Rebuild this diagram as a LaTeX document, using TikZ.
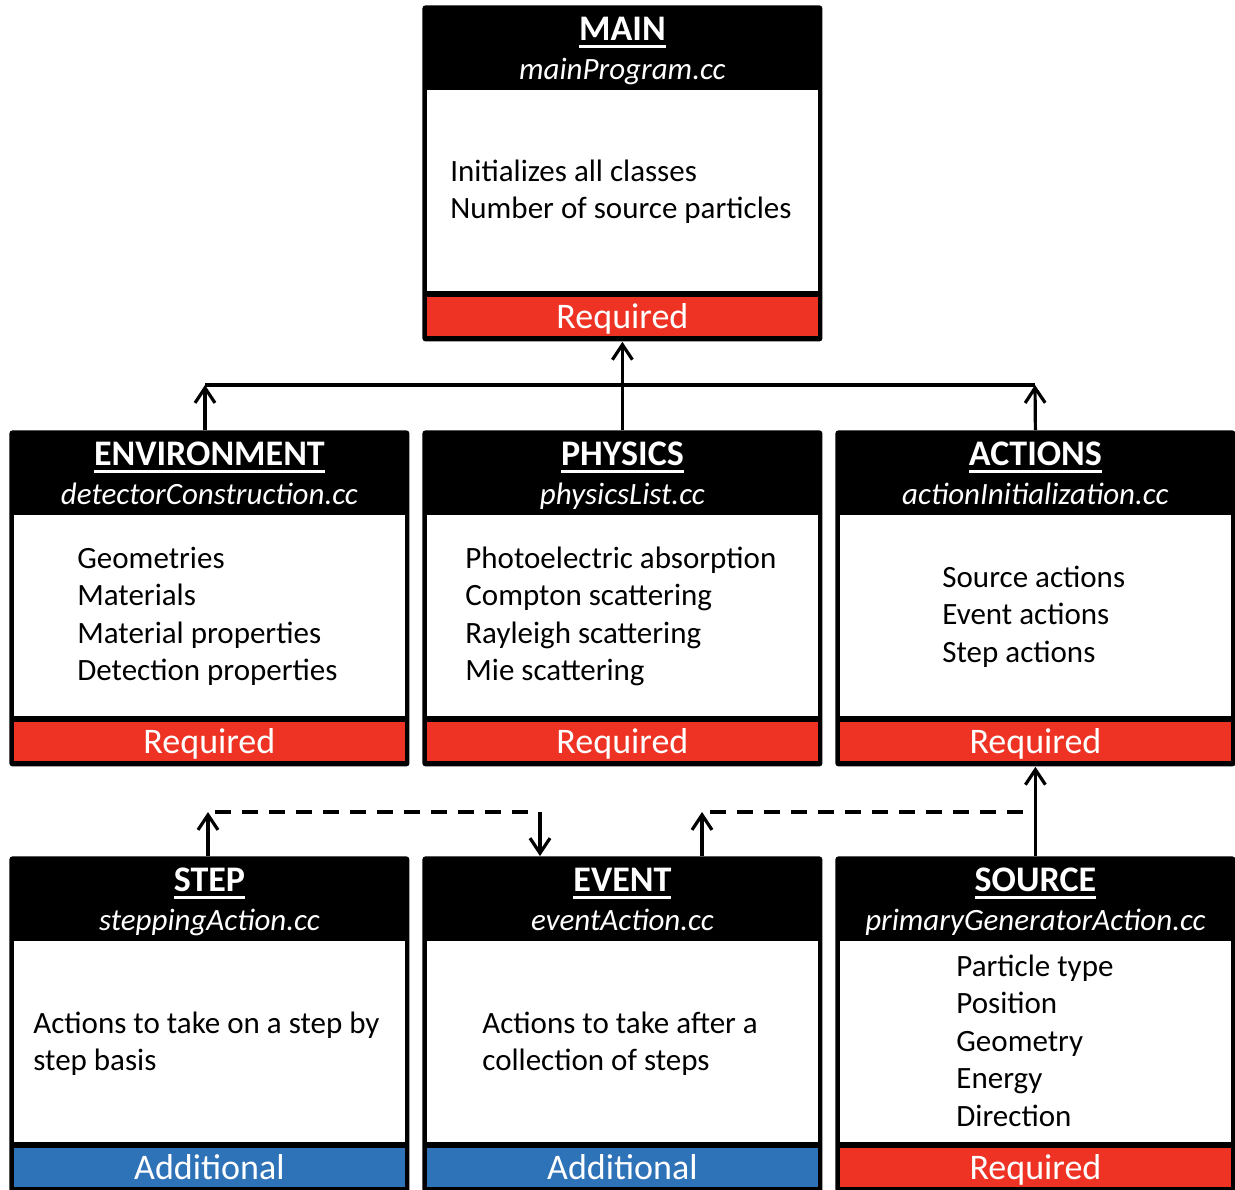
\documentclass[tikz,border=0pt]{standalone}
\usepackage{fontspec}
\setmainfont{Carlito}
\usetikzlibrary{calc,arrows.meta}

\definecolor{reqred}{RGB}{238,51,36}
\definecolor{addblue}{RGB}{46,114,184}

% underlined heading with a heavy rule
\newcommand\ulined[1]{\setbox0\hbox{#1}\rlap{\raisebox{-4pt}{\rule{\wd0}{1.5pt}}}\box0}
% left-aligned stack of lines, baseline at the first line
\newcommand\lines[1]{\begin{tabular}[t]{@{}l@{}}#1\end{tabular}}

\tikzset{
  boxbody/.style={fill=black, draw=none, rounded corners=1.5pt, inner sep=0pt,
    minimum width=200pt, minimum height=168pt},
  titletext/.style={anchor=base, inner sep=0pt, text=white,
    font=\fontsize{18}{21}\selectfont\bfseries},
  filetext/.style={anchor=base, inner sep=0pt, text=white,
    font=\fontsize{15.5}{18.75}\selectfont\itshape},
  bandtext/.style={anchor=base, inner sep=0pt, text=white,
    font=\fontsize{18}{21}\selectfont},
  bodytext/.style={anchor=base west, inner sep=0pt,
    font=\fontsize{15.5}{18.75}\selectfont},
  conn/.style={line width=1.6pt, -{Straight Barb[length=7.5pt,width=10pt]}},
  bus/.style={line width=1.6pt},
  link/.style={line width=1.6pt, dash pattern=on 8pt off 5.5pt},
}

% module box: name, left, top, heading, file name, band colour, band text
\newcommand\modbox[7]{%
  \node[boxbody, anchor=north west] (#1) at (#2,#3) {};
  \fill[white] ($(#1.north west)+(5,85)$) rectangle ($(#1.north east)+(-5,286)$);
  \fill[#6] ($(#1.north west)+(5,292)$) rectangle ($(#1.north east)+(-5,331)$);
  \node[titletext] (#1-title) at ($(#1.north)+(0,35)$) {\ulined{#4}};
  \node[filetext] (#1-file) at ($(#1.north)+(0,74)$) {#5};
  \node[bandtext] (#1-band) at ($(#1.north)+(0,323)$) {#7};
}

\begin{document}
\begin{tikzpicture}[x=0.5pt, y=-0.5pt]
  \useasboundingbox (0,0) rectangle (1235,1189);

  % modules
  \modbox{main}{422}{5}{MAIN}{mainProgram.cc}{reqred}{Required}
  \modbox{env}{9}{430}{ENVIRONMENT}{detectorConstruction.cc}{reqred}{Required}
  \modbox{phys}{422}{430}{PHYSICS}{physicsList.cc}{reqred}{Required}
  \modbox{act}{835}{430}{ACTIONS}{actionInitialization.cc}{reqred}{Required}
  \modbox{step}{9}{856}{STEP}{steppingAction.cc}{addblue}{Additional}
  \modbox{event}{422}{856}{EVENT}{eventAction.cc}{addblue}{Additional}
  \modbox{source}{835}{856}{SOURCE}{primaryGeneratorAction.cc}{reqred}{Required}

  % contents
  \node[bodytext] (main-text) at (450,181)
    {\lines{Initializes all classes\\Number of source particles}};
  \node[bodytext] (env-text) at (77,568)
    {\lines{Geometries\\Materials\\Material properties\\Detection properties}};
  \node[bodytext] (phys-text) at (465,568)
    {\lines{Photoelectric absorption\\Compton scattering\\Rayleigh scattering\\Mie scattering}};
  \node[bodytext] (act-text) at (942,587)
    {\lines{Source actions\\Event actions\\Step actions}};
  \node[bodytext] (step-text) at (33,1033)
    {\lines{Actions to take on a step by\\step basis}};
  \node[bodytext] (event-text) at (482,1033)
    {\lines{Actions to take after a\\collection of steps}};
  \node[bodytext] (source-text) at (956,976)
    {\lines{Particle type\\Position\\Geometry\\Energy\\Direction}};

  % links into MAIN
  \coordinate (busL) at (205,385);
  \coordinate (busR) at (1035,385);
  \draw[bus] (busL) -- (busR);
  \draw[conn] (busL |- env.north) -- (busL);
  \draw[conn] (act.north) -- (busR);
  \draw[conn] (phys.north) -- (main.south);

  % links among the user actions
  \coordinate (stepUp) at (208,812);
  \coordinate (dashA) at (215,812);
  \coordinate (dashB) at (532,812);
  \coordinate (eventIn) at (540,812);
  \draw[conn] (stepUp |- step.north) -- (stepUp);
  \draw[link] (dashA) -- (dashB);
  \draw[conn] (eventIn) -- (eventIn |- event.north);

  \coordinate (eventUp) at (702,812);
  \coordinate (dashC) at (710,812);
  \coordinate (dashD) at (1025,812);
  \draw[conn] (eventUp |- event.north) -- (eventUp);
  \draw[link] (dashC) -- (dashD);
  \draw[conn] (source.north) -- (act.south);
\end{tikzpicture}
\end{document}
